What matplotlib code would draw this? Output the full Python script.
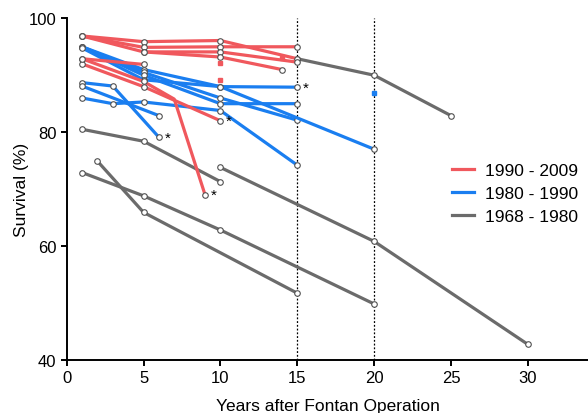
import matplotlib
matplotlib.use('Agg')
import matplotlib.pyplot as plt

plt.rcParams['font.family'] = ['Liberation Sans', 'DejaVu Sans']

# 1990 - 2009
red_x = [[1, 5, 10, 15], [1, 5, 10, 15], [1, 5, 10, 15], [5, 10, 14],
         [1, 5], [1, 5, 10], [1, 5, 7, 9]]
red_y = [[96.9, 95.9, 96.1, 92.9], [96.9, 94.9, 95.0, 95.0], [96.9, 94.1, 94.1, 92.3],
         [94.1, 93.2, 91.0], [92.9, 91.9], [92.0, 88.0, 82.0], [92.9, 88.9, 85.8, 69.0]]
red_marks = [None, None, None, None, None, None, [0, 1, 3]]

# 1980 - 1990
blue_x = [[1, 3, 6], [1, 6], [1, 3, 5, 10, 15], [1, 5, 10, 15],
          [1, 5, 10, 15], [1, 5, 10, 15], [1, 5, 10, 20]]
blue_y = [[88.7, 88.1, 79.1], [88.1, 82.9], [86.0, 85.0, 85.3, 83.8, 74.2],
          [95.0, 91.0, 88.0, 87.9], [95.0, 90.5, 86.0, 82.1], [95.0, 90.0, 85.0, 85.0],
          [94.8, 89.2, 88.0, 77.0]]

# 1968 - 1980
gray_x = [[1, 5, 10], [2, 5, 15], [1, 5, 10, 20], [10, 20, 30], [15, 20, 25]]
gray_y = [[80.5, 78.4, 71.3], [74.9, 65.9, 51.7], [72.9, 68.8, 62.8, 49.8],
          [73.8, 60.8, 42.7], [92.9, 90.0, 82.9]]

# einzelne Punkte (Quadrate) und Sternchen
sq_red_x = [10, 10, 14]
sq_red_y = [92.2, 89.1, 93.1]
sq_blue_x = [20]
sq_blue_y = [86.8]
star_x = [6, 10, 9, 15]
star_y = [79.1, 82.0, 69.0, 87.9]

RED = '#F0585D'
BLUE = '#1A7EF0'
GRAY = '#6B6B6B'

fig = plt.figure(figsize=(5.88, 4.14), dpi=100)
ax = fig.add_axes([0.1134, 0.1287, 0.8888, 0.8246])

for xv in [15, 20]:
    ax.axvline(xv, color='k', ls=(0, (1.5, 1.5)), lw=0.9, zorder=1)

def draw(xs, ys, color, marks=None):
    for i in range(len(xs)):
        me = marks[i] if marks and marks[i] is not None else None
        ax.plot(xs[i], ys[i], color=color, lw=2.3, marker='o', ms=4,
                mfc='white', mec='#505050', mew=0.8, markevery=me, zorder=2)

draw(gray_x, gray_y, GRAY)
draw(blue_x, blue_y, BLUE)
draw(red_x, red_y, RED, red_marks)

ax.plot(sq_red_x, sq_red_y, 's', color=RED, ms=3.2, ls='none', zorder=3)
ax.plot(sq_blue_x, sq_blue_y, 's', color=BLUE, ms=3.2, ls='none', zorder=3)

for sx, sy in zip(star_x, star_y):
    ax.annotate('*', (sx, sy), xytext=(4, -3), textcoords='offset points',
                fontsize=11, color='k')

# legende
ax.plot([], [], color=RED, lw=2.3, label='1990 - 2009')
ax.plot([], [], color=BLUE, lw=2.3, label='1980 - 1990')
ax.plot([], [], color=GRAY, lw=2.3, label='1968 - 1980')
ax.legend(loc='center left', bbox_to_anchor=(0.737, 0.4875), frameon=False,
          fontsize=12.5, handlelength=1.3, handletextpad=0.6, borderpad=0,
          borderaxespad=0, labelspacing=0.45)

ax.set_xlim(0, 34)
ax.set_ylim(40, 100)
ax.set_xticks([0, 5, 10, 15, 20, 25, 30])
ax.set_yticks([40, 60, 80, 100])
ax.spines['top'].set_visible(False)
ax.spines['right'].set_visible(False)
for s in ['left', 'bottom']:
    ax.spines[s].set_linewidth(1.4)
ax.tick_params(width=1.4, length=4, labelsize=12, direction='out')
ax.set_xlabel('Years after Fontan Operation', fontsize=12.5, labelpad=9)
ax.set_ylabel('Survival (%)', fontsize=12.5, labelpad=0)

fig.savefig('out.png', dpi=100)
